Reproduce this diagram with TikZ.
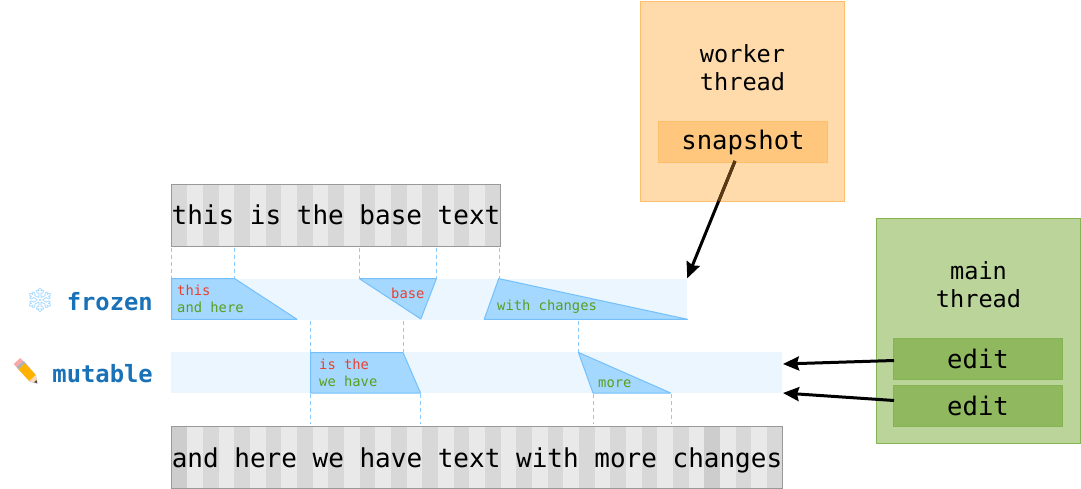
\documentclass[tikz,border=0pt]{standalone}
\usepackage{fontspec}
\setmainfont{DejaVu Sans Mono}
\newfontfamily\emojifont{Noto Emoji}
\usetikzlibrary{arrows.meta}
\definecolor{stripeA}{HTML}{D8D8D8}
\definecolor{stripeB}{HTML}{E9E9E9}
\definecolor{stripeC}{HTML}{CDCDCD}
\definecolor{bandc}{HTML}{EBF6FE}
\definecolor{patchf}{HTML}{A5D8FF}
\definecolor{patchs}{HTML}{74C0FC}
\definecolor{guidec}{HTML}{8CCBFD}
\definecolor{orbg}{HTML}{FFDBAB}
\definecolor{orin}{HTML}{FFC67E}
\definecolor{ors}{HTML}{FFBE6A}
\definecolor{grbg}{HTML}{BBD49A}
\definecolor{grin}{HTML}{90B95F}
\definecolor{grs}{HTML}{85B553}
\definecolor{delc}{HTML}{E8402F}
\definecolor{insc}{HTML}{5A9E1E}
\definecolor{labc}{HTML}{1971B8}
\definecolor{thrbrown}{HTML}{5A3A12}
\tikzset{
  x=1pt,y=-1pt,
  textbox/.style={draw=black!40,line width=1pt,minimum height=62pt,inner sep=0pt,text height=25pt,text depth=6pt,font=\fontsize{26}{26}\selectfont},
  band/.style={fill=bandc,draw=none,inner sep=0pt,minimum height=41pt},
  patch/.style={fill=patchf,draw=patchs,line width=1pt,line join=round},
  guide/.style={draw=guidec,line width=.9pt,dash pattern=on 4pt off 3pt},
  small/.style={anchor=base west,inner sep=0pt,font=\fontsize{13.8}{14}\selectfont},
  del/.style={small,text=delc},
  ins/.style={small,text=insc},
  rowlabel/.style={anchor=base east,inner sep=0pt,text=labc,font=\fontsize{23.8}{24}\selectfont\bfseries},
  outerorange/.style={fill=orbg,draw=ors,line width=1pt},
  innerorange/.style={fill=orin,draw=ors,line width=1pt,inner sep=0pt,font=\fontsize{25.6}{26}\selectfont},
  outergreen/.style={fill=grbg,draw=grs,line width=1pt},
  innergreen/.style={fill=grin,draw=grs,line width=1pt,inner sep=0pt,font=\fontsize{25.6}{26}\selectfont},
  caption/.style={align=center,inner sep=0pt,font=\fontsize{23.6}{28}\selectfont},
  thick arrow/.style={line width=3pt,-{Stealth[length=16pt,width=14pt,inset=2pt]}},
}
\begin{document}
\begin{tikzpicture}
\useasboundingbox (0,0) rectangle (1081,489);
% stripes of the two text boxes
\foreach \i in {0,...,20}{
  \pgfmathtruncatemacro{\r}{mod(\i,2)}
  \ifnum\r=0 \def\c{stripeA}\else\def\c{stripeB}\fi
  \fill[\c] ({171.5+\i*15.667},184.5) rectangle ({171.5+(\i+1)*15.667},246.5);
}
\foreach \i in {0,...,38}{
  \pgfmathtruncatemacro{\r}{mod(\i,2)}
  \ifnum\r=0 \def\c{stripeA}\else\def\c{stripeB}\fi
  \ifnum\i=0 \def\c{stripeC}\fi
  \ifnum\i=34 \def\c{stripeC}\fi
  \fill[\c] ({171.5+\i*15.667},426.5) rectangle ({171.5+(\i+1)*15.667},488.5);
}
\node[textbox,minimum width=329pt] (basetext) at (336,215.5) {this is the base text};
\node[textbox,minimum width=611pt] (finaltext) at (477,457.5) {and here we have text with more changes};
% bands
\node[band,minimum width=516pt] (frozenband) at (429,299) {};
\node[band,minimum width=611pt] (mutableband) at (476.5,372.5) {};
% guides
\foreach \x in {171.5,234.5,359.5,436.5,499.5}
  \draw[guide] (\x,247.5) -- (\x,278);
\foreach \x in {310.5,403.5,578.5}
  \draw[guide] (\x,321) -- (\x,352);
\foreach \x in {310.5,420.5,593.5,671.5}
  \draw[guide] (\x,394) -- (\x,424);
% patches
\draw[patch] (171.5,278.5) -- (234.5,278.5) -- (297,319.3) -- (171.5,319.3) -- cycle;
\draw[patch] (359.4,278.7) -- (436.4,278.7) -- (420.8,319) -- cycle;
\draw[patch] (498.7,278.6) -- (687.5,319.3) -- (484.2,319.3) -- cycle;
\draw[patch] (310.5,352.5) -- (403,352.5) -- (420.5,393) -- (310.5,393) -- cycle;
\draw[patch] (578.4,352.4) -- (670.7,393) -- (593,393) -- cycle;
% patch texts
\node[del] (t1) at (177,295) {this};
\node[ins] (t2) at (177,312) {and here};
\node[del] (t3) at (391,298) {base};
\node[ins] (t4) at (497,310) {with changes};
\node[del] (t5) at (319,369) {is the};
\node[ins] (t6) at (319,386) {we have};
\node[ins] (t7) at (598,387) {more};
% row labels
\node[rowlabel] (frozenlabel) at (153,310) {frozen};
\node[rowlabel] (mutablelabel) at (153,382) {mutable};
\node[inner sep=0pt,text=patchf,font=\emojifont\fontsize{24}{24}\selectfont] (snow) at (40,300) {^^^^2744};
% pencil
\fill[black!25] (24,361) -- (36,375.5) -- (37.6,383.8) -- (29.8,381.6) -- (17,367.5) -- cycle;
\fill[orange!60!yellow] (25,363.2) -- (35.8,375) -- (29.2,381) -- (18.4,369.2) -- cycle;
\fill[red!35!white] (20.3,358) -- (23,361) -- (16.4,367) -- (13.7,364) -- cycle;
\fill[black!30] (23,361) -- (25,363.2) -- (18.4,369.2) -- (16.4,367) -- cycle;
\fill[orange!30!white] (35.8,375) -- (37.2,383.2) -- (29.2,381) -- cycle;
\fill[black!70] (36.5,380) -- (37.2,383.2) -- (34,382.3) -- cycle;
% threads
\node[outerorange,minimum width=204pt,minimum height=200pt] (worker) at (742.5,101.5) {};
\node[caption] (workercap) at (742.5,68) {worker\\thread};
\node[innerorange,minimum width=169pt,minimum height=41pt] (snapshot) at (743,142) {snapshot};
\node[outergreen,minimum width=204pt,minimum height=225pt] (mainbox) at (978.5,331) {};
\node[caption] (maincap) at (978.5,285) {main\\thread};
\node[innergreen,minimum width=169pt,minimum height=41pt] (edita) at (978,359) {edit};
\node[innergreen,minimum width=169pt,minimum height=41pt] (editb) at (978,406) {edit};
% connectors
\coordinate (snapfrom) at (735,161);
\coordinate (workeredge) at (718.8,201);
\coordinate (edita from) at (894,360.5);
\coordinate (editb from) at (894,400.5);
\coordinate (mutin a) at (783,364);
\coordinate (mutin b) at (783,393);
\draw[thick arrow] (snapfrom) -- (frozenband.north east);
\draw[line width=3pt,thrbrown] (snapfrom) -- (workeredge);
\draw[thick arrow] (edita from) -- (mutin a);
\draw[thick arrow] (editb from) -- (mutin b);
\end{tikzpicture}
\end{document}
